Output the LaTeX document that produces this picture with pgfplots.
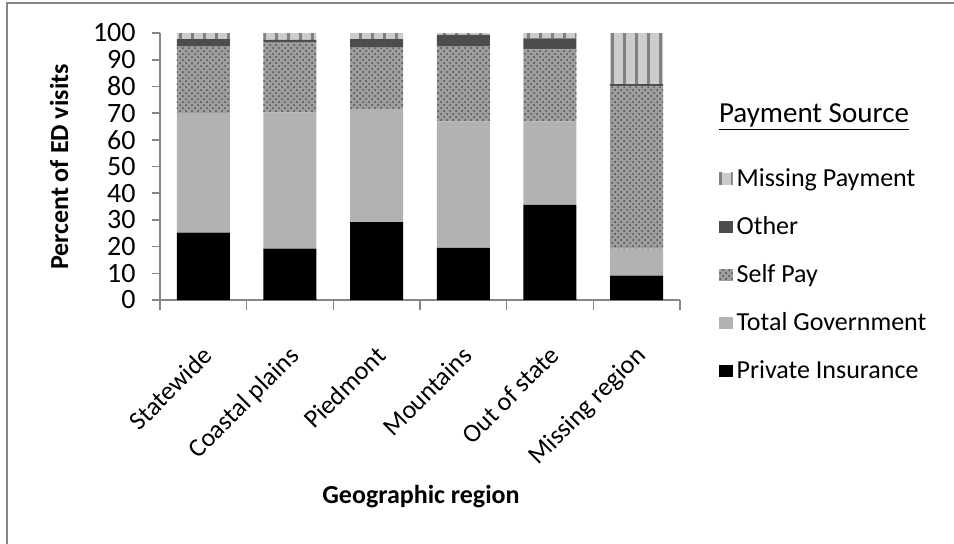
\documentclass[border=0pt]{standalone}
\usepackage{pgfplots}
\pgfplotsset{compat=1.18}
\usepackage{pgfplotstable}
\usepackage{fontspec}
\setmainfont{Carlito}
\usetikzlibrary{patterns,patterns.meta}

\definecolor{axgray}{RGB}{134,134,134}
\definecolor{govgray}{RGB}{178,178,178}
\definecolor{othgray}{RGB}{77,77,77}

% idx priv gov self other miss (percent of ED visits)
\pgfplotstableread{
idx priv gov self other miss
0 25.2 44.9 24.8 2.8 2.3
1 19.2 51.0 26.2 1.0 2.6
2 29.2 42.4 22.9 3.2 2.3
3 19.5 47.3 28.1 4.4 0.7
4 35.6 31.2 27.1 4.1 2.0
5  9.1 10.1 60.8 0.9 19.1
}\paydata

\begin{document}
\begin{tikzpicture}
  \path[use as bounding box] (0,0) rectangle (477pt,271.5pt);
  \draw[axgray, line width=0.8pt] (3.5pt,-5pt) -- (3.5pt,270pt) -- (490pt,270pt);
  \begin{axis}[
      at={(80pt,121.5pt)}, anchor=south west,
      scale only axis,
      width=260pt, height=133.5pt,
      ybar stacked,
      bar width=26.5pt,
      xmin=-0.5, xmax=5.5,
      ymin=0, ymax=100,
      ytick={0,10,...,100},
      xtick={0,...,5},
      xticklabels={Statewide, Coastal plains, Piedmont, Mountains, Out of state, Missing region},
      major x tick style={draw=none},
      minor xtick={-0.5,0.5,...,5.5},
      minor tick length=5pt,
      major tick length=4pt,
      tick align=outside,
      axis x line*=bottom,
      axis y line*=left,
      axis line style={axgray, line width=0.8pt},
      tick style={axgray, line width=0.8pt},
      font=\fontsize{13}{15}\selectfont,
      /pgf/number format/assume math mode=true,
      yticklabel style={font=\fontsize{14}{16}\selectfont, inner sep=1pt, xshift=-7pt},
      xticklabel style={rotate=45, anchor=north east, inner sep=1pt, xshift=-12.5pt, yshift=-11pt},
      xlabel={\bfseries Geographic region},
      ylabel={\bfseries Percent of ED visits},
      every axis x label/.style={at={(rel axis cs:0.502,-0.738)}, anchor=center},
      every axis y label/.style={at={(rel axis cs:-0.194,0.498)}, rotate=90, anchor=center},
      reverse legend,
      legend cell align=left,
      legend style={at={(rel axis cs:1.062,0.524)}, anchor=north west, draw=none,
        font=\fontsize{13}{15}\selectfont, row sep=9.5pt,
        /tikz/every even column/.append style={column sep=2pt}},
      legend image code/.code={\draw[#1, draw=none] (0pt,-3pt) rectangle (7pt,3pt);},
      clip=false,
    ]
    \addplot[fill=black, draw=none] table[x=idx, y=priv] {\paydata};
    \addlegendentry{Private Insurance}
    \addplot[fill=govgray, draw=none] table[x=idx, y=gov] {\paydata};
    \addlegendentry{Total Government}
    \addplot[fill=black!38, draw=none, postaction={pattern=crosshatch dots, pattern color=black!70}] table[x=idx, y=self] {\paydata};
    \addlegendentry{Self Pay}
    \addplot[fill=othgray, draw=none] table[x=idx, y=other] {\paydata};
    \addlegendentry{Other}
    \addplot[fill=black!20, draw=none, postaction={pattern={Lines[angle=90, distance=6pt, line width=1.5pt]}, pattern color=black!50}] table[x=idx, y=miss] {\paydata};
    \addlegendentry{Missing Payment}
    \node[anchor=west, font=\fontsize{14.5}{16}\selectfont] at (rel axis cs:1.0615,0.685) {\underline{Payment Source}};
  \end{axis}
\end{tikzpicture}
\end{document}
